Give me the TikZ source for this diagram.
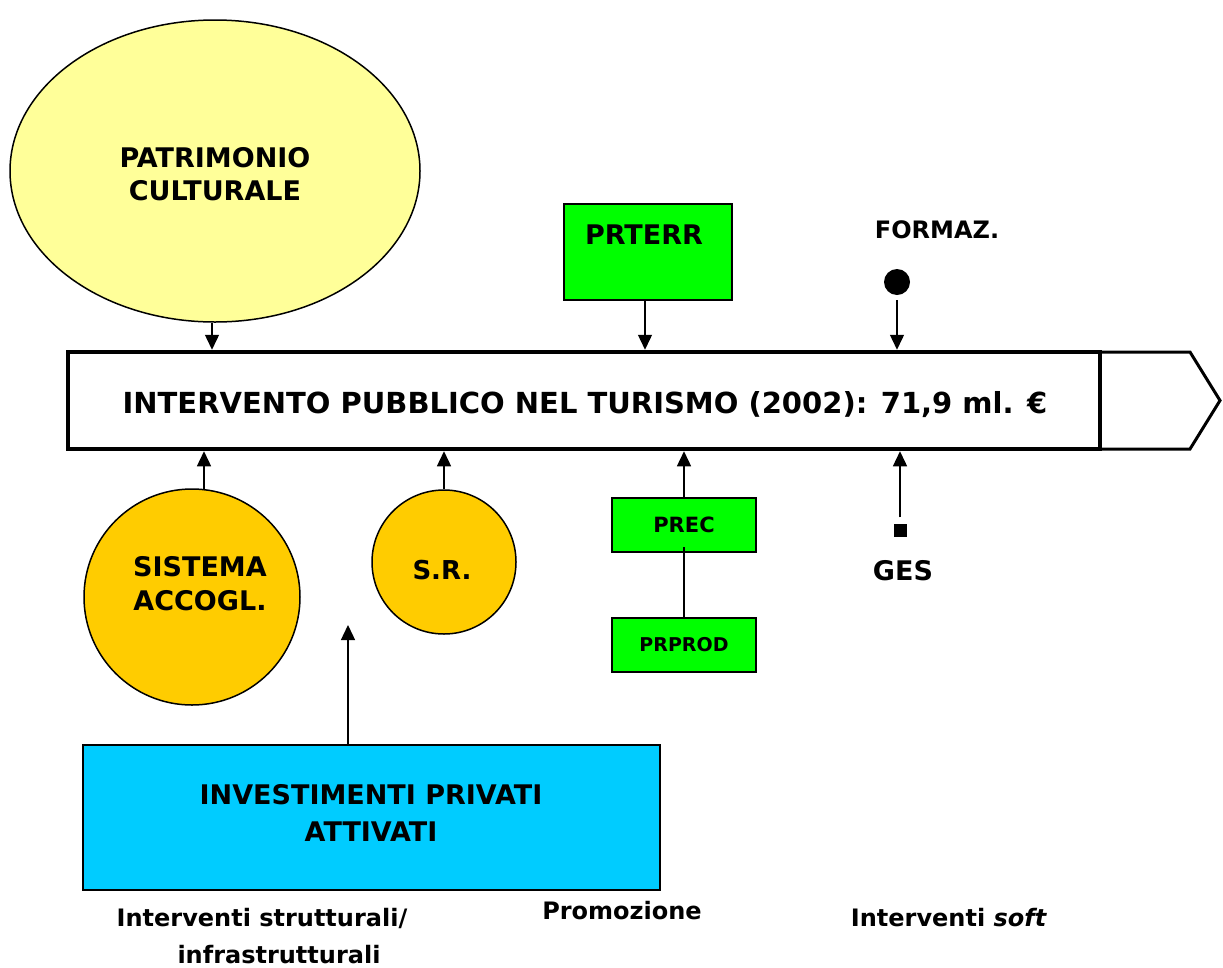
\documentclass[tikz,border=0pt]{standalone}
\usepackage{fontspec}
\setmainfont{DejaVu Sans}
\usetikzlibrary{arrows.meta,shapes.geometric,calc}

\tikzset{
  txt/.style={font=\bfseries, inner sep=0pt, align=center},
  boxline/.style={draw=black, line width=1.5pt},
  arr/.style={line width=1.4pt, -{Triangle[length=15pt,width=14pt]}},
  link/.style={line width=1.4pt},
  greenbox/.style={boxline, fill=boxgreen, inner sep=0pt},
  orangeball/.style={boxline, circle, fill=ballorange, inner sep=0pt},
}
\definecolor{boxgreen}{HTML}{00FF00}
\definecolor{ballorange}{HTML}{FFCC00}
\definecolor{paleyellow}{HTML}{FFFF99}
\definecolor{skycyan}{HTML}{00CCFF}

\newcommand{\fs}[2]{\fontsize{#1}{#2}\selectfont}

\begin{document}
\begin{tikzpicture}[x=1pt,y=-1pt]
  \path[use as bounding box, fill=white] (0,0) rectangle (1223,967);

  % central band with its arrow head
  \node[draw=black, line width=4.5pt, minimum width=1032pt, minimum height=97pt,
        inner sep=0pt] (band) at (584,400.5) {};
  \node[txt, font=\bfseries\fs{29}{34}] (title) at (585,405)
    {INTERVENTO PUBBLICO NEL TURISMO (2002): 71,9 ml. €};
  \coordinate (bandne) at ($(band.north east)+(-2.25,2.25)$);
  \coordinate (bandse) at ($(band.south east)+(-2.25,-2.25)$);
  \coordinate (tip) at (1220,400.5);
  \draw[line width=3pt, line join=miter]
    (bandne) -- (1190,352) -- (tip) -- (1190,449) -- (bandse);

  % cultural heritage
  \node[boxline, ellipse, fill=paleyellow, minimum width=410pt, minimum height=302pt,
        inner sep=0pt] (patr) at (215,171) {};
  \node[txt, font=\bfseries\fs{27}{33}] (patrtext) at (215,174) {PATRIMONIO\\CULTURALE};
  \draw[arr] (patr.south -| 212,0) -- (band.north -| 212,0);

  % territorial programme
  \node[greenbox, minimum width=168pt, minimum height=96pt] (prterr) at (648,252) {};
  \node[txt, font=\bfseries\fs{27}{33}] (prterrtext) at (644,235) {PRTERR};
  \draw[arr] (prterr.south -| 645,0) -- (band.north -| 645,0);

  % training
  \node[txt, font=\bfseries\fs{24}{30}] (formaz) at (937,230) {FORMAZ.};
  \node[circle, fill=black, minimum size=26pt, inner sep=0pt] (dot) at (897,282) {};
  \draw[arr, shorten <=5pt] (dot.south) -- (band.north -| dot.south);

  % accommodation system
  \node[orangeball, minimum size=216pt] (sis) at (192,597) {};
  \node[txt, font=\bfseries\fs{27}{34}] (sistext) at (200,584) {SISTEMA\\ACCOGL.};
  \draw[arr] (204,489.5) coordinate (sistop) -- (band.south -| sistop);

  % S.R.
  \node[orangeball, minimum size=144pt] (sr) at (444,562) {};
  \node[txt, font=\bfseries\fs{26}{32}] (srtext) at (442,570) {S.R.};
  \draw[arr] (sr.north) -- (band.south -| sr.north);

  % promotion programmes
  \node[greenbox, minimum width=144pt, minimum height=54pt,
        font=\bfseries\fs{21}{26}] (prec) at (684,525) {PREC};
  \node[greenbox, minimum width=144pt, minimum height=54pt,
        font=\bfseries\fs{19}{24}] (prprod) at (684,645) {PRPROD};
  \draw[link] (prprod.north) -- ($(prec.south)+(0,-6)$);
  \draw[arr] (prec.north) -- (band.south -| prec.north);

  % management
  \node[fill=black, minimum size=13pt, inner sep=0pt] (sq) at (900,530) {};
  \node[txt, font=\bfseries\fs{27}{33}] (ges) at (903,571) {GES};
  \draw[arr, shorten <=6pt] (sq.north) -- (band.south -| sq.north);

  % private investment
  \node[boxline, fill=skycyan, minimum width=577pt, minimum height=145pt,
        inner sep=0pt] (inv) at (371.5,817.5) {};
  \node[txt, font=\bfseries\fs{27}{37}] (invtext) at (371,813)
    {INVESTIMENTI PRIVATI\\ATTIVATI};
  \coordinate (invtip) at (348,625);
  \draw[arr] (inv.north -| invtip) -- (invtip);

  % bottom captions
  \node[txt, font=\bfseries\fs{24}{37}] (capstr) at (262,936)
    {Interventi strutturali/\\\hspace*{34pt}infrastrutturali};
  \node[txt, font=\bfseries\fs{24}{30}] (capprom) at (622,911) {Promozione};
  \node[txt, font=\bfseries\fs{24}{30}] (capsoft) at (949,918)
    {Interventi \textit{soft}};
\end{tikzpicture}
\end{document}
